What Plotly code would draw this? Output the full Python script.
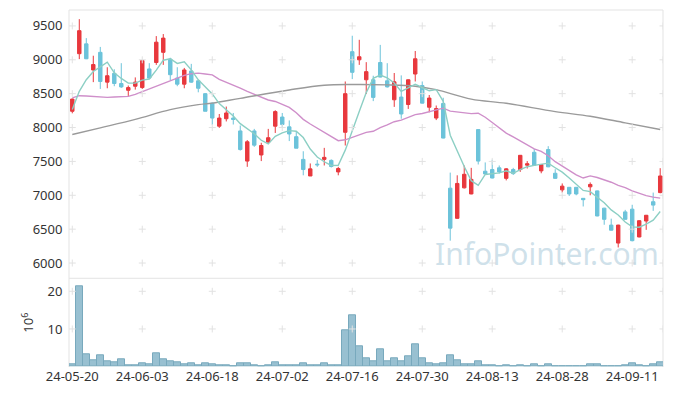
import plotly.graph_objects as go

# ---------------- data ----------------
dates = [
    "24-05-20", "24-05-21", "24-05-22", "24-05-23", "24-05-24", "24-05-27", "24-05-28", "24-05-29", "24-05-30", "24-05-31",
    "24-06-03", "24-06-04", "24-06-05", "24-06-07", "24-06-10", "24-06-11", "24-06-12", "24-06-13", "24-06-14", "24-06-17",
    "24-06-18", "24-06-19", "24-06-20", "24-06-21", "24-06-24", "24-06-25", "24-06-26", "24-06-27", "24-06-28", "24-07-01",
    "24-07-02", "24-07-03", "24-07-04", "24-07-05", "24-07-08", "24-07-09", "24-07-10", "24-07-11", "24-07-12", "24-07-15",
    "24-07-16", "24-07-17", "24-07-18", "24-07-19", "24-07-22", "24-07-23", "24-07-24", "24-07-25", "24-07-26", "24-07-29",
    "24-07-30", "24-07-31", "24-08-01", "24-08-02", "24-08-05", "24-08-06", "24-08-07", "24-08-08", "24-08-09", "24-08-12",
    "24-08-13", "24-08-14", "24-08-16", "24-08-19", "24-08-20", "24-08-21", "24-08-22", "24-08-23", "24-08-26", "24-08-27",
    "24-08-28", "24-08-29", "24-08-30", "24-09-02", "24-09-03", "24-09-04", "24-09-05", "24-09-06", "24-09-09", "24-09-10",
    "24-09-11", "24-09-12", "24-09-13", "24-09-19", "24-09-20",
]

opens = [
    8240, 9090, 9235, 8850, 9110, 8670, 8800, 8650, 8550, 8610,
    8590, 8865, 8960, 9110, 9010, 8730, 8640, 8835, 8690, 8500,
    8360, 8020, 8130, 8140, 7950, 7505, 7950, 7595, 7785, 8020,
    8155, 8010, 7865, 7530, 7285, 7460, 7530, 7515, 7345, 7930,
    9120, 9000, 8705, 8705, 8960, 8690, 8410, 8450, 8340, 8790,
    8620, 8300, 8140, 8355, 7105, 6660, 7110, 7020, 7970, 7355,
    7380, 7405, 7250, 7380, 7380, 7445, 7635, 7360, 7675, 7325,
    7080, 7118, 7118, 6955, 7125, 7065, 6810, 6560, 6295, 6755,
    6795, 6385, 6620, 6905, 7040,
]
highs = [
    8430, 9600, 9320, 9060, 9190, 8890, 8860, 8950, 8620, 8740,
    8990, 8950, 9350, 9380, 9030, 8890, 8880, 8940, 8700, 8510,
    8370, 8200, 8310, 8215, 8030, 7815, 7980, 7775, 7980, 8255,
    8215, 8105, 7945, 7650, 7470, 7520, 7700, 7530, 7420, 8680,
    9355, 9295, 8965, 8765, 9220, 8950, 8805, 8770, 8710, 9130,
    8680, 8480, 8325, 8440, 7335, 7295, 7440, 7405, 7975, 7485,
    7525, 7440, 7400, 7405, 7595, 7505, 7685, 7460, 7725, 7385,
    7175, 7120, 7120, 6955, 7190, 7070, 6815, 6655, 6565, 6785,
    6860, 6630, 6710, 7040, 7400,
]
lows = [
    8210, 9010, 9010, 8670, 8570, 8580, 8610, 8585, 8460, 8560,
    8570, 8720, 8925, 8925, 8700, 8610, 8580, 8660, 8520, 8240,
    8040, 7995, 8090, 8045, 7660, 7420, 7715, 7505, 7775, 7920,
    8010, 7800, 7695, 7295, 7285, 7420, 7440, 7410, 7295, 7735,
    8715, 8925, 8495, 8390, 8740, 8590, 8305, 8130, 8275, 8680,
    8355, 8225, 8110, 7840, 6330, 6655, 7100, 7015, 7455, 7310,
    7250, 7320, 7220, 7300, 7345, 7395, 7440, 7325, 7415, 7245,
    7040, 6990, 7000, 6835, 7000, 6690, 6565, 6480, 6230, 6640,
    6320, 6380, 6490, 6770, 7030,
]
closes = [
    8420, 9430, 9015, 8930, 8680, 8765, 8650, 8600, 8590, 8670,
    8990, 8730, 9260, 9320, 8780, 8640, 8850, 8670, 8580, 8240,
    8140, 8140, 8215, 8120, 7675, 7790, 7740, 7735, 7850, 8235,
    8045, 7905, 7695, 7380, 7390, 7450, 7560, 7425, 7395, 8500,
    8815, 9045, 8825, 8445, 8745, 8600, 8675, 8200, 8705, 9015,
    8360, 8435, 8280, 7845, 6515, 7175, 7310, 7235, 7505, 7315,
    7255, 7345, 7390, 7320, 7590, 7465, 7445, 7455, 7420, 7250,
    7135, 7020, 7020, 6935, 7160, 6695, 6645, 6485, 6560, 6645,
    6330, 6625, 6705, 6855, 7285,
]

# volume in millions of shares (axis labelled 10^6)
volume_m = [
    0.6, 21.4, 3.3, 1.8, 3.0, 1.5, 1.2, 1.9, 0.35, 0.35,
    0.9, 0.6, 3.6, 1.9, 1.5, 1.15, 0.6, 0.9, 0.35, 0.9,
    0.6, 0.35, 0.35, 0.1, 0.9, 0.9, 0.35, 0.1, 0.35, 1.15,
    0.35, 0.35, 0.35, 0.9, 0.35, 0.35, 0.9, 0.35, 0.35, 9.6,
    13.6, 5.4, 2.2, 1.4, 4.6, 1.4, 2.2, 1.4, 2.7, 5.9,
    2.2, 0.9, 0.6, 0.9, 3.0, 1.7, 0.6, 0.6, 1.4, 0.35,
    0.35, 0.1, 0.35, 0.1, 0.35, 0.1, 0.6, 0.1, 0.6, 0.1,
    0.1, 0.1, 0.1, 0.1, 0.6, 0.6, 0.1, 0.1, 0.1, 0.35,
    0.9, 0.35, 0.1, 0.6, 1.15,
]

# short moving average (teal)
ma_short = [
    8265, 8534, 8706, 8828, 8895, 8964, 8808, 8725, 8657, 8655,
    8700, 8716, 8848, 8994, 9016, 8946, 8970, 8852, 8704, 8596,
    8496, 8354, 8263, 8171, 8058, 7988, 7908, 7812, 7758, 7870,
    7921, 7954, 7946, 7852, 7683, 7564, 7495, 7441, 7444, 7666,
    7939, 8236, 8516, 8726, 8775, 8732, 8658, 8533, 8585, 8639,
    8591, 8543, 8559, 8387, 7887, 7650, 7425, 7216, 7148, 7308,
    7324, 7331, 7362, 7325, 7380, 7422, 7442, 7455, 7475, 7407,
    7341, 7256, 7169, 7072, 7054, 6966, 6891, 6784, 6709, 6606,
    6533, 6529, 6573, 6632, 6760,
]
# medium moving average (pink)
ma_mid = [
    8437, 8470, 8465, 8455, 8448, 8446, 8450, 8455, 8460, 8490,
    8530, 8575, 8615, 8645, 8690, 8735, 8770, 8795, 8803, 8791,
    8777, 8712, 8672, 8632, 8581, 8533, 8487, 8444, 8407, 8385,
    8338, 8297, 8218, 8121, 8052, 7992, 7928, 7866, 7806, 7819,
    7853, 7898, 7929, 7945, 7999, 8039, 8086, 8109, 8152, 8191,
    8207, 8233, 8262, 8286, 8242, 8228, 8216, 8206, 8212, 8152,
    8074, 7989, 7918, 7861, 7804, 7747, 7685, 7648, 7584, 7496,
    7434, 7364, 7301, 7255, 7287, 7263, 7230, 7193, 7146, 7112,
    7066, 7030, 6996, 6973, 6958,
]
# long moving average (grey), read at these dates
ma_long_dates = [
    "24-05-20", "24-05-24", "24-05-31", "24-06-10", "24-06-14", "24-06-18", "24-06-24",
    "24-07-03", "24-07-10", "24-07-16", "24-07-23", "24-07-29", "24-08-01", "24-08-08",
    "24-08-16", "24-08-27", "24-09-03", "24-09-10", "24-09-20",
]
ma_long = [
    7897, 7995, 8120, 8265, 8338, 8360, 8431,
    8555, 8625, 8635, 8630, 8610, 8559, 8420,
    8358, 8235, 8167, 8069, 7971,
]

price_ticks = [6000, 6500, 7000, 7500, 8000, 8500, 9000, 9500]
volume_ticks = [10, 20]
date_ticks = dates[::10]

# ---------------- style ----------------
RED = "#e8383d"
BLUE = "#6cc3da"
FONT = "Noto Sans"
XMIN, XMAX = -0.47, 84.4
VOL_TOP = 0.2485

fig = go.Figure()

fig.add_trace(go.Candlestick(
    x=dates, open=opens, high=highs, low=lows, close=closes,
    xaxis="x", yaxis="y",
    increasing=dict(line=dict(color=RED, width=1), fillcolor=RED),
    decreasing=dict(line=dict(color=BLUE, width=1), fillcolor=BLUE),
    whiskerwidth=0, hoverinfo="skip",
))

fig.add_trace(go.Scatter(x=dates, y=ma_mid, mode="lines", xaxis="x", yaxis="y",
                         line=dict(color="#cf8fca", width=1.4), hoverinfo="skip"))
fig.add_trace(go.Scatter(x=ma_long_dates, y=ma_long, mode="lines", xaxis="x", yaxis="y",
                         line=dict(color="#9a9a9a", width=1.4, shape="spline"), hoverinfo="skip"))
fig.add_trace(go.Scatter(x=dates, y=ma_short, mode="lines", xaxis="x", yaxis="y",
                         line=dict(color="#8ccfc4", width=1.4), hoverinfo="skip"))

fig.add_trace(go.Bar(x=dates, y=volume_m, xaxis="x", yaxis="y2",
                     marker=dict(color="#98c0d1", line=dict(color="#78a9bd", width=1)),
                     hoverinfo="skip"))

# grid "+" marks at tick intersections (positions from the tick arrays)
grid_x = [dates.index(d) for d in date_ticks] + [XMAX]
for yvals, yax in ((price_ticks, "y"), (volume_ticks, "y2")):
    gx, gy = [], []
    for yv in yvals:
        for xv in grid_x:
            gx.append(xv)
            gy.append(yv)
    fig.add_trace(go.Scatter(x=gx, y=gy, mode="markers", xaxis="x3", yaxis=yax,
                             marker=dict(symbol="cross-thin", size=5,
                                         line=dict(color="#e2e2e2", width=1)),
                             hoverinfo="skip"))

tickfont = dict(family=FONT, size=13, color="#333333")
frame = "#e3e3e3"

fig.update_layout(
    width=673, height=396,
    margin=dict(l=69, r=10, t=10, b=29, autoexpand=False),
    paper_bgcolor="white", plot_bgcolor="white",
    showlegend=False, hovermode=False,
    bargap=0, boxgap=0.3,
    font=dict(family=FONT, color="#333333"),
    xaxis=dict(type="category", domain=[0, 1], anchor="y2", range=[XMIN, XMAX],
               tickvals=date_ticks, ticktext=date_ticks, tickfont=tickfont,
               showgrid=False, zeroline=False, showline=False, automargin=False,
               ticks="",
               rangeslider=dict(visible=False), fixedrange=True),
    xaxis3=dict(type="linear", overlaying="x", anchor="y2", range=[XMIN, XMAX],
                visible=False, showgrid=False, zeroline=False, automargin=False),
    yaxis=dict(domain=[VOL_TOP, 1], anchor="x", range=[5775, 9735],
               tickvals=price_ticks, tickfont=tickfont, automargin=False,
               showgrid=False, zeroline=False, showline=False,
               ticks="outside", ticklen=3, tickcolor="rgba(0,0,0,0)"),
    yaxis2=dict(domain=[0, VOL_TOP], anchor="x", range=[-0.1, 23.45],
                tickvals=volume_ticks, tickfont=tickfont, automargin=False,
                showgrid=False, zeroline=False, showline=False,
                ticks="outside", ticklen=3, tickcolor="rgba(0,0,0,0)",
                title=dict(text="10<sup>6</sup>", font=dict(family=FONT, size=13, color="#333333"),
                           standoff=10)),
    shapes=[
        dict(type="line", xref="paper", yref="paper", x0=0, x1=1, y0=1, y1=1,
             line=dict(color=frame, width=1), layer="below"),
        dict(type="line", xref="paper", yref="paper", x0=0, x1=1, y0=VOL_TOP, y1=VOL_TOP,
             line=dict(color=frame, width=1), layer="below"),
        dict(type="line", xref="paper", yref="paper", x0=0, x1=0, y0=0, y1=1,
             line=dict(color=frame, width=1), layer="below"),
        dict(type="line", xref="paper", yref="paper", x0=1, x1=1, y0=0, y1=1,
             line=dict(color=frame, width=1), layer="below"),
    ],
    annotations=[
        dict(text="InfoPointer.com", xref="paper", yref="paper", x=0.804, y=0.319,
             xanchor="center", yanchor="middle", showarrow=False,
             font=dict(family=FONT, size=30, color="rgba(160,195,213,0.5)")),
    ],
)

fig.write_html("out.html", config={"displayModeBar": False},
               post_script="document.body.style.margin='0';")
